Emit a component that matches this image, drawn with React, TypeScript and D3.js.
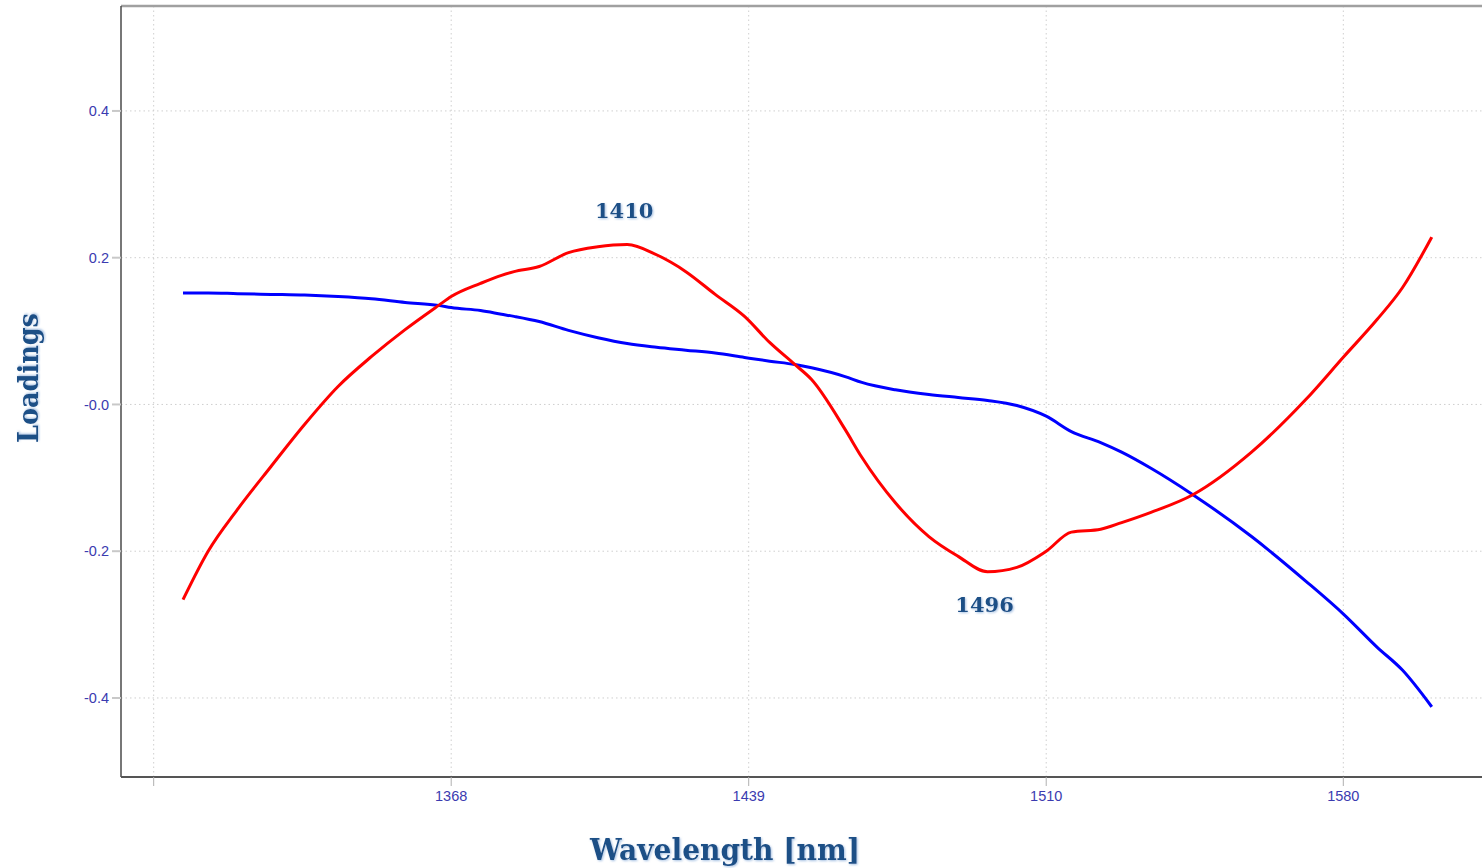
import React from "react";
import * as d3 from "d3";

// Wavelength grid (nm) shared by both loading vectors
const wavelengths = [
  1304, 1310, 1317, 1325, 1333, 1341, 1349, 1357, 1365, 1368, 1375, 1380, 1383,
  1389, 1396, 1403, 1410, 1417, 1424, 1431, 1438, 1444, 1450, 1454, 1462, 1466,
  1474, 1482, 1489, 1496, 1503, 1510, 1516, 1523, 1528, 1535, 1545, 1559, 1572,
  1581, 1589, 1595, 1602,
];

// First loading (blue)
const loading1 = [
  0.152, 0.152, 0.151, 0.15, 0.149, 0.147, 0.144, 0.139, 0.135, 0.132, 0.128,
  0.123, 0.12, 0.113, 0.101, 0.091, 0.083, 0.078, 0.074, 0.07, 0.064, 0.059,
  0.0545, 0.05, 0.038, 0.03, 0.02, 0.0136, 0.0095, 0.0055, -0.0014, -0.016,
  -0.037, -0.052, -0.065, -0.087, -0.123, -0.18, -0.241, -0.286, -0.331, -0.362,
  -0.412,
];

// Second loading (red)
const loading2 = [
  -0.266, -0.2, -0.143, -0.0845, -0.0273, 0.0245, 0.0654, 0.102, 0.135, 0.147,
  0.165, 0.176, 0.181, 0.188, 0.207, 0.215, 0.218, 0.204, 0.181, 0.15, 0.12,
  0.0845, 0.0545, 0.034, -0.034, -0.072, -0.134, -0.18, -0.207, -0.228, -0.222,
  -0.2, -0.174, -0.17, -0.161, -0.147, -0.123, -0.065, 0.007, 0.065, 0.116,
  0.159, 0.228,
];

const yTicks = [0.4, 0.2, 0, -0.2, -0.4];
const yTickLabels = ["0.4", "0.2", "-0.0", "-0.2", "-0.4"];
// Tick positions sit on sampled wavelengths; labels show the truncated value
const xTicks = [1297, 1368, 1439, 1510, 1580.9];
const xTickLabels = ["", "1368", "1439", "1510", "1580"];

// Annotated extrema of the red loading: [wavelength, placement]
const peakMarks: [number, "above" | "below"][] = [
  [1410, "above"],
  [1496, "below"],
];

const W = 1482;
const H = 868;
const left = 121;
const right = 1482;
const top = 6;
const bottom = 777;

export default function App() {
  const x = d3.scaleLinear().domain([1289.2, 1614.0]).range([left, right]);
  const y = d3.scaleLinear().domain([-0.5077, 0.543]).range([bottom, top]);

  const line = d3
    .line<number>()
    .x((_, i) => x(wavelengths[i]))
    .y((d) => y(d))
    .curve(d3.curveMonotoneX);

  const tickColor = "#3b3bb0";
  const titleColor = "#1b4f86";

  return (
    <svg
      width={W}
      height={H}
      style={{ position: "absolute", left: 0, top: 0, background: "#fff" }}
    >
      <defs>
        <filter id="glow" x="-10%" y="-20%" width="120%" height="140%">
          <feGaussianBlur in="SourceAlpha" stdDeviation="1.2" result="b" />
          <feFlood floodColor="#7fa6d6" floodOpacity="0.7" />
          <feComposite in2="b" operator="in" result="s" />
          <feOffset dx="1" dy="1" result="o" />
          <feMerge>
            <feMergeNode in="o" />
            <feMergeNode in="SourceGraphic" />
          </feMerge>
        </filter>
      </defs>

      {/* grid */}
      {xTicks.map((t) => (
        <line
          key={"gx" + t}
          x1={x(t)}
          x2={x(t)}
          y1={top}
          y2={bottom}
          stroke="#cfcfcf"
          strokeDasharray="1.5,3"
        />
      ))}
      {yTicks.map((t) => (
        <line
          key={"gy" + t}
          x1={left}
          x2={right}
          y1={y(t)}
          y2={y(t)}
          stroke="#cfcfcf"
          strokeDasharray="1.5,3"
        />
      ))}

      {/* frame */}
      <line x1={left} x2={right} y1={top} y2={top} stroke="#a0a0a0" strokeWidth={2.5} />
      <line x1={left} x2={left} y1={top} y2={bottom} stroke="#4a4a4a" strokeWidth={1.5} />
      <line x1={left} x2={right} y1={bottom} y2={bottom} stroke="#555" strokeWidth={2} />

      {/* y ticks */}
      {yTicks.map((t, i) => (
        <g key={"ty" + t}>
          <line x1={left - 9} x2={left} y1={y(t)} y2={y(t)} stroke="#c8c8c8" strokeWidth={2} />
          <text
            x={left - 12}
            y={y(t)}
            dy="0.35em"
            textAnchor="end"
            fontFamily="Liberation Sans, Arial, sans-serif"
            fontSize={14.5}
            fill={tickColor}
          >
            {yTickLabels[i]}
          </text>
        </g>
      ))}

      {/* x ticks */}
      {xTicks.map((t, i) => (
        <g key={"tx" + t}>
          <line x1={x(t)} x2={x(t)} y1={bottom} y2={bottom + 9} stroke="#b0b0b0" strokeWidth={1} />
          <text
            x={x(t)}
            y={796}
            dy="0.35em"
            textAnchor="middle"
            fontFamily="Liberation Sans, Arial, sans-serif"
            fontSize={14.5}
            fill={tickColor}
          >
            {xTickLabels[i]}
          </text>
        </g>
      ))}

      {/* loadings */}
      <path d={line(loading1) || ""} fill="none" stroke="#0000ff" strokeWidth={3} strokeLinejoin="round" />
      <path d={line(loading2) || ""} fill="none" stroke="#ff0000" strokeWidth={3} strokeLinejoin="round" />

      {/* peak annotations */}
      {peakMarks.map(([nm, pos]) => {
        const i = wavelengths.indexOf(nm);
        const v = loading2[i];
        return (
          <text
            key={"pk" + nm}
            x={x(nm) - 3}
            y={pos === "above" ? y(v) - 26 : y(v) + 40}
            textAnchor="middle"
            fontFamily="DejaVu Serif, serif"
            fontWeight="bold"
            fontSize={21}
            fill={titleColor}
            filter="url(#glow)"
          >
            {nm}
          </text>
        );
      })}

      {/* axis titles */}
      <text
        x={725}
        y={860}
        textAnchor="middle"
        fontFamily="DejaVu Serif, serif"
        fontWeight="bold"
        fontSize={29}
        textLength={270}
        lengthAdjust="spacingAndGlyphs"
        fill={titleColor}
        filter="url(#glow)"
      >
        Wavelength [nm]
      </text>
      <text
        transform="translate(38,378) rotate(-90)"
        textAnchor="middle"
        fontFamily="DejaVu Serif, serif"
        fontWeight="bold"
        fontSize={28}
        textLength={130}
        lengthAdjust="spacingAndGlyphs"
        fill={titleColor}
        filter="url(#glow)"
      >
        Loadings
      </text>
    </svg>
  );
}
